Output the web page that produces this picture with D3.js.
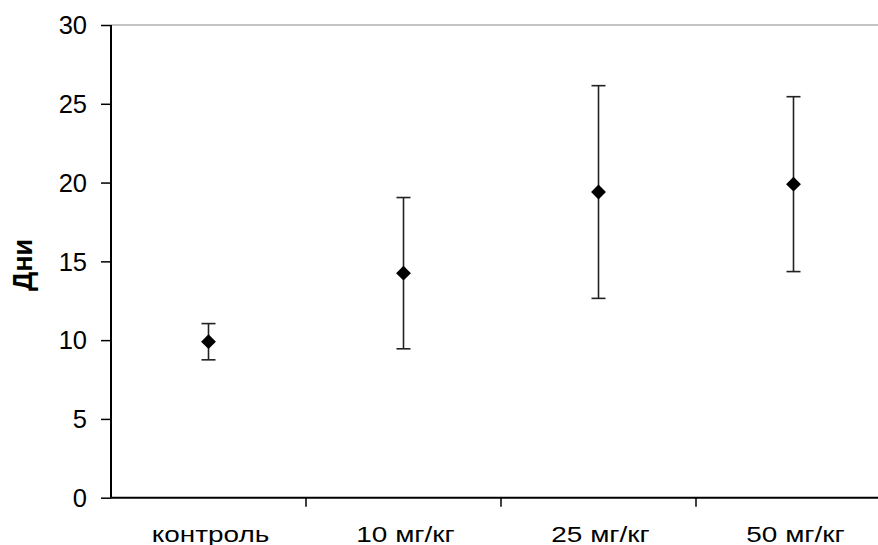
<!DOCTYPE html>
<html>
<head>
<meta charset="utf-8">
<script src="https://cdn.jsdelivr.net/npm/d3@7"></script>
<style>
  body { margin: 0; background: #fff; }
  text { font-family: "Liberation Sans", Arial, sans-serif; fill: #000; }
</style>
</head>
<body>
<div id="vis"></div>
<script>
var categories = ['контроль', '10 мг/кг', '25 мг/кг', '50 мг/кг'];
var means = [9.9, 14.25, 19.4, 19.9];
var errors = [1.15, 4.8, 6.75, 5.55];
var yTicks = [0, 5, 10, 15, 20, 25, 30];

var width = 878, height = 545;
var plotLeft = 111, plotTop = 25, plotBottom = 497.7, plotRight = 891;

var svg = d3.select('#vis').append('svg')
  .attr('width', width)
  .attr('height', height);

var x = d3.scaleBand().domain(categories).range([plotLeft, plotRight]).padding(0);
var y = d3.scaleLinear().domain([0, 30]).range([plotBottom, plotTop]);

// top border line
svg.append('line')
  .attr('x1', plotLeft).attr('x2', width)
  .attr('y1', y(30)).attr('y2', y(30))
  .attr('stroke', '#8a8a8a').attr('stroke-width', 1.2);

// y axis
var yAxis = svg.append('g')
  .attr('transform', 'translate(' + plotLeft + ',0)')
  .call(d3.axisLeft(y).tickValues(yTicks).tickSize(10).tickPadding(14).tickFormat(d3.format('d')));
yAxis.select('.domain').remove();
svg.append('line')
  .attr('x1', plotLeft).attr('x2', plotLeft)
  .attr('y1', y(30)).attr('y2', y(0))
  .attr('stroke', '#000').attr('stroke-width', 2);
yAxis.selectAll('.tick line').attr('stroke', '#000').attr('stroke-width', 1.5);
yAxis.selectAll('.tick text').style('font-size', '25.5px').attr('dy', '0.34em');

// x axis
var xAxis = svg.append('g')
  .attr('transform', 'translate(0,' + plotBottom + ')')
  .call(d3.axisBottom(x).tickSize(0).tickPadding(0));
xAxis.select('.domain').remove();
svg.append('line')
  .attr('x1', plotLeft).attr('x2', width)
  .attr('y1', plotBottom).attr('y2', plotBottom)
  .attr('stroke', '#000').attr('stroke-width', 2);
xAxis.selectAll('.tick text')
  .style('font-size', '22px')
  .attr('y', 28.4)
  .attr('transform', 'translate(2,0) scale(1.27,1)');

// category separators
svg.selectAll('.xsep')
  .data(categories.slice(1))
  .enter().append('line')
  .attr('class', 'xsep')
  .attr('x1', function (d) { return x(d); })
  .attr('x2', function (d) { return x(d); })
  .attr('y1', plotBottom).attr('y2', plotBottom + 9)
  .attr('stroke', '#000').attr('stroke-width', 1.5);

// y label
svg.append('text')
  .attr('transform', 'translate(31.7,265) rotate(-90)')
  .attr('text-anchor', 'middle')
  .style('font-size', '27px')
  .style('font-weight', 'bold')
  .text('Дни');

var data = categories.map(function (c, i) {
  return { cat: c, mean: means[i], err: errors[i] };
});

var cx = function (d) { return x(d.cat) + x.bandwidth() / 2; };
var cap = 7;

var bars = svg.selectAll('.ebar').data(data).enter().append('g').attr('class', 'ebar');
bars.append('line')
  .attr('x1', cx).attr('x2', cx)
  .attr('y1', function (d) { return y(d.mean + d.err); })
  .attr('y2', function (d) { return y(d.mean - d.err); })
  .attr('stroke', '#222').attr('stroke-width', 1.6);
bars.append('line')
  .attr('x1', function (d) { return cx(d) - cap; })
  .attr('x2', function (d) { return cx(d) + cap; })
  .attr('y1', function (d) { return y(d.mean + d.err); })
  .attr('y2', function (d) { return y(d.mean + d.err); })
  .attr('stroke', '#222').attr('stroke-width', 1.6);
bars.append('line')
  .attr('x1', function (d) { return cx(d) - cap; })
  .attr('x2', function (d) { return cx(d) + cap; })
  .attr('y1', function (d) { return y(d.mean - d.err); })
  .attr('y2', function (d) { return y(d.mean - d.err); })
  .attr('stroke', '#222').attr('stroke-width', 1.6);

svg.selectAll('.pt').data(data).enter().append('path')
  .attr('class', 'pt')
  .attr('d', d3.symbol().type(d3.symbolDiamond2).size(140))
  .attr('transform', function (d) { return 'translate(' + cx(d) + ',' + y(d.mean) + ')'; })
  .attr('fill', '#000');
</script>
</body>
</html>
